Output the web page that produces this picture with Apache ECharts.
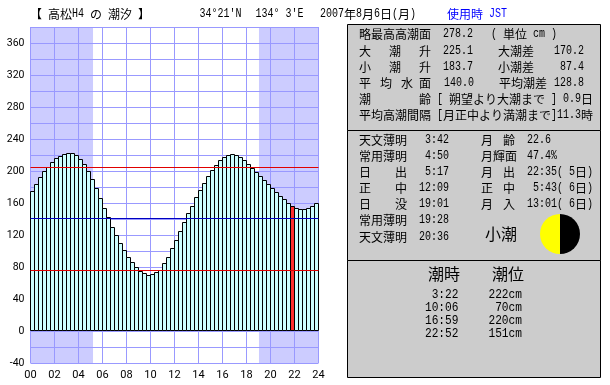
<!DOCTYPE html>
<html><head><meta charset="utf-8">
<style>html,body{margin:0;padding:0;background:#fff}#c{width:610px;height:385px}</style>
<script src="https://cdn.jsdelivr.net/npm/echarts@6/dist/echarts.min.js"></script>
</head><body><div id="c"></div>
<script>
// Tide level for each 20-minute slot of the day (cm)
const tideLevels = [175,183.75,192.5,200,205,211.25,216.25,218.75,221.25,222.5,222.5,220,215,208.75,200,190,178.75,166.25,153.75,142.5,130,120,110,101.25,92.5,86.25,80,75,72.5,70,71.25,73.75,76.25,85,92.5,103.75,113.75,125,136.25,147.5,156.25,167.5,176.25,185,193.75,201.25,207.5,213.75,217.5,220,221.25,220,217.5,213.75,208.75,203.75,198.75,193.75,188.75,183.75,178.75,173.75,168.75,165,160,156.25,153.75,152.5,152.5,153.75,156.25,160];
const slots = tideLevels.map((_, i) => String(i));
const currentSlot = 65;
const referenceHighWater = 204.4, meanLevel = 140.6, referenceLowWater = 75.6;
const nightBands = [[0, 5.21], [19.04, 24]];
const hourTicks = ['00','02','04','06','08','10','12','14','16','18','20','22','24'];

const titleText = '【 高松H4 の 潮汐 】';
const latText = "34°21'N", lonText = "134° 3'E";
const dateText = '2007年8月6日(月)', zoneText = '使用時 JST';

const summaryRow1 = ['略最高高潮面','278.2','( 単位 cm )'];
const summaryRow2 = ['大','潮','升','225.1','大潮差','170.2'];
const summaryRow3 = ['小','潮','升','183.7','小潮差','87.4'];
const summaryRow4 = ['平','均','水','面','140.0','平均潮差','128.8'];
const summaryRow5 = ['潮','齢','[ 朔望より大潮まで ] 0.9日'];
const summaryRow6 = ['平均高潮間隔','[月正中より満潮まで]11.3時'];

const sunRow1 = ['天文薄明','3:42'], sunRow2 = ['常用薄明','4:50'];
const sunRow3 = ['日','出','5:17'], sunRow4 = ['正','中','12:09'];
const sunRow5 = ['日','没','19:01'], sunRow6 = ['常用薄明','19:28'], sunRow7 = ['天文薄明','20:36'];
const moonRow1 = ['月','齢','22.6'], moonRow2 = ['月輝面','47.4%'];
const moonRow3 = ['月','出','22:35( 5日)'], moonRow4 = ['正','中',' 5:43( 6日)'], moonRow5 = ['月','入','13:01( 6日)'];
const tideName = '小潮';
const extremeHeader = ['潮時','潮位'];
const extremeTimes = ['3:22','10:06','16:59','22:52'];
const extremeLevels = ['222cm','70cm','220cm','151cm'];

const g = [];
function isAscii(c){ return c.charCodeAt(0) < 0x2000; }
function put(x, y, text, color){
  color = color || '#000';
  let cur = x, run = '', ascii = null;
  const flush = () => {
    if (!run) return;
    if (ascii) {
      g.push({type:'text', x:cur, y:y, scaleX:0.8333, z:10,
        style:{text:run, fill:color, font:'12px "Liberation Mono"', textAlign:'left', textVerticalAlign:'middle'}});
      cur += run.length * 6;
    } else {
      g.push({type:'text', x:cur, y:y, z:10,
        style:{text:run, fill:color, font:'12px "Noto Sans CJK JP"', textAlign:'left', textVerticalAlign:'middle'}});
      cur += run.length * 12;
    }
    run = '';
  };
  for (const c of text) {
    const a = isAscii(c);
    if (ascii !== null && a !== ascii) flush();
    ascii = a; run += c;
  }
  flush();
}
function row(cells, y, xs){ cells.forEach((t, i) => put(xs[i], y, t)); }
function panel(y, h){
  g.push({type:'rect', z:1, shape:{x:347.5, y:y+0.5, width:253, height:h},
    style:{fill:'#cccccc', stroke:'#000', lineWidth:1}});
}
panel(24, 106); panel(130, 130); panel(260, 117);

put(30, 14, titleText);
put(199.5, 14, latText); put(255.5, 14, lonText);
put(320, 14, dateText); put(447, 14, zoneText, '#0000ff');

row(summaryRow1, 34, [359,443,491]);
row(summaryRow2, 51, [359,389,419,443,498,554]);
row(summaryRow3, 67, [359,389,419,443,498,560]);
row(summaryRow4, 83, [359,380,401,419,444,499,554]);
row(summaryRow5, 99, [359,419,437]);
row(summaryRow6, 115, [359,437]);

const tr = s => 449 - s.length * 6;
function sunTime(cells, y){
  if (cells.length === 2) row(cells, y, [359, tr(cells[1])]);
  else row(cells, y, [359, 395, tr(cells[2])]);
}
sunTime(sunRow1,140); sunTime(sunRow2,156); sunTime(sunRow3,172); sunTime(sunRow4,188);
sunTime(sunRow5,204); sunTime(sunRow6,220); sunTime(sunRow7,237);
row(moonRow1,140,[481,503,527]); row(moonRow2,156,[481,527]);
row(moonRow3,172,[481,503,527]); row(moonRow4,188,[481,503,527]); row(moonRow5,204,[481,503,527]);

g.push({type:'text', x:501, y:234, z:10, style:{text:tideName, fill:'#000', font:'16px "Noto Sans CJK JP"', textAlign:'center', textVerticalAlign:'middle'}});
g.push({type:'sector', z:5, shape:{cx:560, cy:234, r:20, r0:0, startAngle:Math.PI/2, endAngle:Math.PI*1.5, clockwise:true}, style:{fill:'#ffff00'}});
g.push({type:'sector', z:5, shape:{cx:560, cy:234, r:20, r0:0, startAngle:-Math.PI/2, endAngle:Math.PI/2, clockwise:true}, style:{fill:'#000'}});

g.push({type:'text', x:444, y:274, z:10, style:{text:extremeHeader[0], fill:'#000', font:'16px "Noto Sans CJK JP"', textAlign:'center', textVerticalAlign:'middle'}});
g.push({type:'text', x:508, y:274, z:10, style:{text:extremeHeader[1], fill:'#000', font:'16px "Noto Sans CJK JP"', textAlign:'center', textVerticalAlign:'middle'}});
[294.5,307.5,320.5,334].forEach((y, i) => {
  g.push({type:'text', x:458.5, y:y, scaleX:0.86, z:10, style:{text:extremeTimes[i], fill:'#000', font:'13px "Liberation Mono"', textAlign:'right', textVerticalAlign:'middle'}});
  g.push({type:'text', x:522, y:y, scaleX:0.86, z:10, style:{text:extremeLevels[i], fill:'#000', font:'13px "Liberation Mono"', textAlign:'right', textVerticalAlign:'middle'}});
});

const chart = echarts.init(document.getElementById('c'), null, {renderer:'canvas'});
const gridColor = '#9999ff';
chart.setOption({
  animation:false,
  backgroundColor:'#fff',
  grid:{left:30.5, top:27, width:288, height:336, containLabel:false},
  xAxis:[
    {type:'category', data:slots, show:false, boundaryGap:true},
    {type:'value', min:0, max:24, interval:2, position:'bottom',
      axisLine:{show:false}, axisTick:{show:false},
      splitLine:{show:true, lineStyle:{color:gridColor, width:1}},
      axisLabel:{show:true, margin:7, color:'#000', fontFamily:'Roboto', fontSize:11, hideOverlap:false,
        showMinLabel:true, showMaxLabel:true,
        formatter:v => hourTicks[v/2]}}
  ],
  yAxis:{type:'value', min:-40, max:380, interval:20,
    axisLine:{show:false}, axisTick:{show:false},
    splitLine:{show:true, lineStyle:{color:gridColor, width:1}},
    axisLabel:{margin:6, color:'#000', fontFamily:'Roboto', fontSize:10.5,
      formatter:v => (v % 40 === 0 && v < 380) ? String(v) : ''}},
  graphic:{elements:g},
  series:[
    {type:'line', xAxisIndex:1, yAxisIndex:0, data:[], z:-1, silent:true,
      markArea:{silent:true, itemStyle:{color:'#ccccff', borderWidth:0}, z:-1,
        data:nightBands.map(b => [{xAxis:b[0]},{xAxis:b[1]}])}},
    {type:'bar', xAxisIndex:0, yAxisIndex:0, barWidth:5, barGap:'0%', z:2, silent:true,
      data:tideLevels.map((v,i) => ({value:v, itemStyle:{color: i===currentSlot ? '#ff3030' : '#ccffff', borderColor:'#000', borderWidth:1}})),
      markLine:{silent:true, symbol:'none', animation:false, label:{show:false},
        data:[
          {yAxis:referenceHighWater, lineStyle:{color:'#e00000', width:1, type:'solid'}},
          {yAxis:meanLevel, lineStyle:{color:'#0000c0', width:1, type:'solid'}},
          {yAxis:referenceLowWater, lineStyle:{color:'#e00000', width:1, type:'solid'}}
        ]}}
  ]
});
</script></body></html>
